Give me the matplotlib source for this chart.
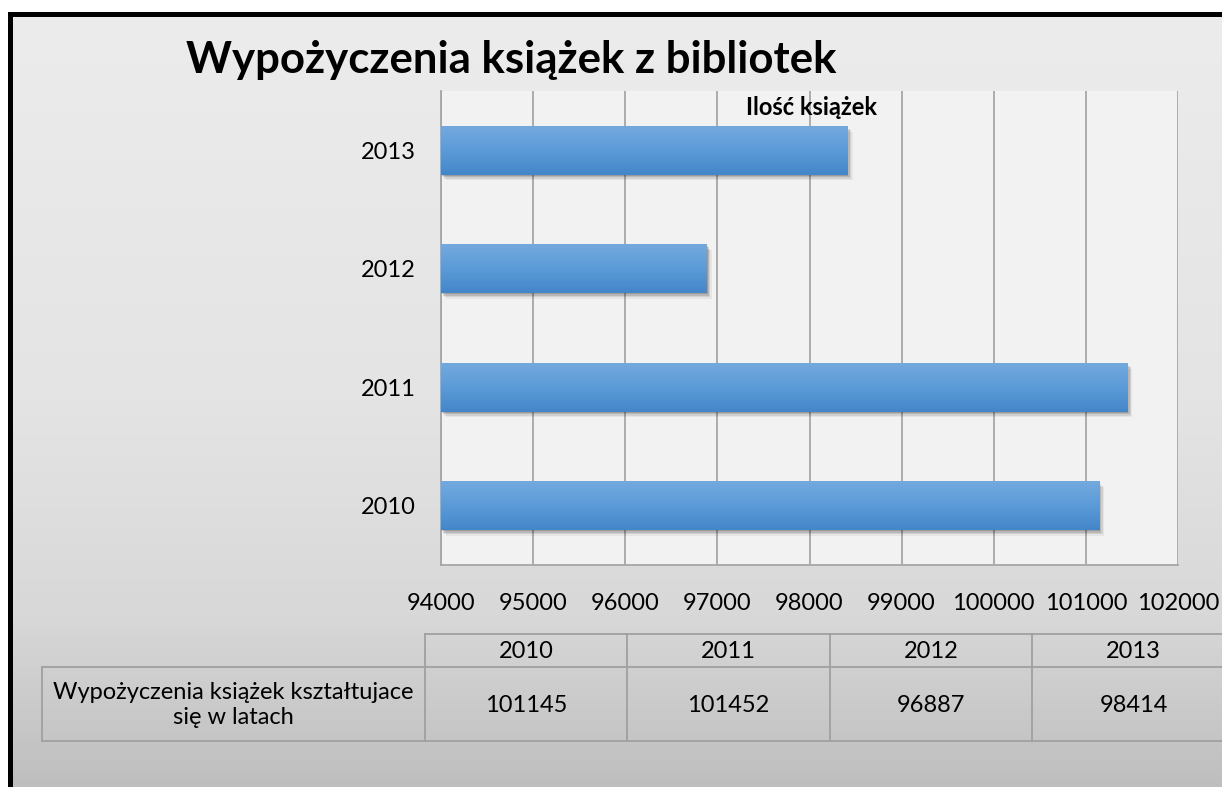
import numpy as np
import matplotlib
matplotlib.use('Agg')
import matplotlib.pyplot as plt
from matplotlib import patheffects as pe
from matplotlib.patches import Rectangle

# ---------------- data ----------------
years = ['2010', '2011', '2012', '2013']
values = [101145, 101452, 96887, 98414]
x_ticks = [94000, 95000, 96000, 97000, 98000, 99000, 100000, 101000, 102000]
title = 'Wypożyczenia książek z bibliotek'
series_name = 'Ilość książek'
row_label = 'Wypożyczenia książek kształtujace\nsię w latach'

plt.rcParams['font.family'] = ['Lato', 'DejaVu Sans']

W, H = 1222, 787
fig = plt.figure(figsize=(W / 100, H / 100), dpi=100, facecolor='white')

# ---------------- background (pixel coordinates) ----------------
bg = fig.add_axes([0, 0, 1, 1], zorder=0)
g = np.interp(np.linspace(0, 1, 300), [0, 0.5, 0.78, 1.0], [236, 228, 216, 190]) / 255.0
gimg = np.dstack([np.repeat(g[:, None], 2, axis=1)] * 3)
bg.imshow(gimg, extent=(8, W, H, 12), aspect='auto', interpolation='bilinear')
bg.add_patch(Rectangle((8, 12), 5, H - 12, color='black', lw=0))
bg.add_patch(Rectangle((8, 12), W - 8, 5, color='black', lw=0))
bg.set_xlim(0, W)
bg.set_ylim(H, 0)
bg.axis('off')

# ---------------- main bar axes ----------------
L, R, T, B = 441, 1178, 91, 565
ax = fig.add_axes([L / W, 1 - B / H, (R - L) / W, (B - T) / H], zorder=2)
ax.set_facecolor('#f2f2f2')
ypos = np.arange(len(years))
xmin = x_ticks[0]
bars = ax.barh(ypos, [v - xmin for v in values], left=xmin, height=0.41,
               color='#5b9bd5', zorder=3)

top_c = np.array([0x74, 0xa9, 0xde]) / 255
mid_c = np.array([0x5b, 0x9b, 0xd8]) / 255
bot_c = np.array([0x43, 0x86, 0xc9]) / 255
t = np.linspace(0, 1, 100)[:, None]
col = np.where(t < 0.5, top_c + (mid_c - top_c) * (t / 0.5),
               mid_c + (bot_c - mid_c) * ((t - 0.5) / 0.5))
bar_img = np.repeat(col[:, None, :], 2, axis=1)

shadow = [pe.SimplePatchShadow(offset=(0.5, -1.0), shadow_rgbFace='black', alpha=0.15),
          pe.SimplePatchShadow(offset=(1.5, -2.0), shadow_rgbFace='black', alpha=0.12),
          pe.SimplePatchShadow(offset=(2.5, -3.0), shadow_rgbFace='black', alpha=0.09),
          pe.SimplePatchShadow(offset=(3.5, -4.0), shadow_rgbFace='black', alpha=0.05),
          pe.Normal()]
for b in bars:
    b.set_path_effects(shadow)
    x0, y0 = b.get_x(), b.get_y()
    w, h = b.get_width(), b.get_height()
    im = ax.imshow(bar_img, extent=(x0, x0 + w, y0, y0 + h), aspect='auto',
                   interpolation='bilinear', zorder=4, origin='upper')
    im.set_clip_path(b)

ax.set_xlim(x_ticks[0], x_ticks[-1])
ax.set_ylim(-0.5, len(years) - 0.5)
ax.set_xticks(x_ticks)
ax.set_xticklabels([str(v) for v in x_ticks])
ax.set_yticks(ypos)
ax.set_yticklabels(years)
ax.xaxis.grid(True, color='#a6a6a6', lw=1.3, zorder=1)
ax.set_axisbelow(True)
for s in ['top', 'right']:
    ax.spines[s].set_visible(False)
for s in ['left', 'bottom']:
    ax.spines[s].set_color('#a6a6a6')
    ax.spines[s].set_linewidth(1.3)
ax.tick_params(axis='both', length=0, labelsize=17, colors='black')
ax.tick_params(axis='x', pad=20)
ax.tick_params(axis='y', pad=18)

# ---------------- titles ----------------
fig.text(511 / W, 1 - 73 / H, title, ha='center', va='baseline',
         fontsize=31.5, fontweight='bold')
fig.text(811 / W, 1 - 115 / H, series_name, ha='center', va='baseline',
         fontsize=17, fontweight='bold')

# ---------------- data table (pixel coordinates) ----------------
tab = fig.add_axes([0, 0, 1, 1], zorder=3)
tab.set_xlim(0, W)
tab.set_ylim(H, 0)
tab.axis('off')
lc = '#a0a0a0'
col_edges = [425, 627, 830, 1032, 1235]
y_top, y_mid, y_bot = 634, 667, 741
tab.plot([col_edges[0], W], [y_top, y_top], color=lc, lw=1.3)
tab.plot([42, W], [y_mid, y_mid], color=lc, lw=1.3)
tab.plot([42, W], [y_bot, y_bot], color=lc, lw=1.3)
tab.plot([42, 42], [y_mid, y_bot], color=lc, lw=1.3)
for xe in col_edges[:-1]:
    tab.plot([xe, xe], [y_top, y_bot], color=lc, lw=1.3)
for i, (yr, v) in enumerate(zip(years, values)):
    cx = (col_edges[i] + col_edges[i + 1]) / 2
    tab.text(cx, (y_top + y_mid) / 2 + 1, yr, ha='center', va='center', fontsize=17)
    tab.text(cx, (y_mid + y_bot) / 2 + 1, str(v), ha='center', va='center', fontsize=17)
tab.text((42 + 425) / 2, (y_mid + y_bot) / 2 + 1, row_label, ha='center', va='center',
         fontsize=17, multialignment='center', linespacing=1.25)

fig.savefig('out.png', dpi=100, facecolor='white')
